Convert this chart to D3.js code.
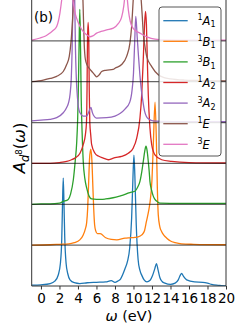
<!DOCTYPE html>
<html>
<head>
<meta charset="utf-8">
<script src="https://cdn.jsdelivr.net/npm/d3@7"></script>
<style>
body { margin: 0; background: #fff; }
svg { display: block; font-family: "DejaVu Sans", sans-serif; }
</style>
</head>
<body>
<div id="chart"></div>
<script>
// spectral function of each d8 multiplet as [omega (eV), A]
// every curve sits on its own baseline (offset by its index)
const spec_1A1 = [[-1,0.02],[0,0.03],[1,0.06],[1.5,0.12],[1.87,0.27],[2.1,0.55],[2.25,1.16],[2.33,2.0],[2.41,2.64],[2.49,2.0],[2.57,1.2],[2.72,0.55],[2.9,0.3],[3.14,0.15],[3.6,0.08],[4.2,0.06],[5.0,0.08],[6.0,0.09],[7.0,0.1],[7.6,0.13],[8.0,0.09],[8.3,0.12],[8.6,0.17],[9.08,0.42],[9.35,0.6],[9.6,0.95],[9.8,1.66],[9.95,2.7],[10.05,3.2],[10.15,2.7],[10.3,1.5],[10.5,0.65],[10.7,0.38],[10.9,0.26],[11.15,0.15],[11.45,0.1],[11.8,0.14],[12.05,0.25],[12.3,0.42],[12.48,0.55],[12.65,0.4],[12.86,0.2],[13.1,0.11],[13.4,0.07],[14.0,0.04],[14.5,0.07],[14.84,0.15],[15.05,0.26],[15.2,0.31],[15.4,0.24],[15.75,0.15],[16.6,0.1],[17.5,0.09],[18.0,0.07],[18.45,0.04],[19.0,0.02],[19.5,0.01],[20,0.0]];
const spec_1B1 = [[-1,0.0],[1,0.01],[2,0.02],[3,0.03],[3.6,0.06],[4.2,0.13],[4.57,0.25],[4.8,0.4],[4.94,0.55],[5.05,0.9],[5.15,1.5],[5.25,2.1],[5.38,2.35],[5.5,2.1],[5.6,1.5],[5.7,0.9],[5.8,0.5],[5.92,0.35],[6.1,0.28],[6.4,0.28],[7.0,0.18],[7.6,0.14],[8.2,0.13],[9.08,0.17],[9.6,0.18],[10.16,0.19],[10.5,0.2],[10.9,0.25],[11.2,0.36],[11.4,0.58],[11.65,0.85],[11.8,1.07],[12.0,1.6],[12.15,2.5],[12.33,3.5],[12.48,2.5],[12.58,1.4],[12.68,0.74],[12.85,0.45],[13.05,0.33],[13.3,0.24],[13.6,0.17],[14.0,0.1],[14.5,0.06],[15.2,0.03],[16.5,0.02],[20,0.01]];
const spec_3B1 = [[-1,0.0],[0,0.01],[1,0.01],[2,0.03],[2.4,0.07],[2.95,0.12],[3.2,0.25],[3.5,0.6],[3.7,1.05],[3.86,1.5],[3.97,2.1],[4.05,2.9],[4.12,3.9],[4.2,4.77],[4.28,3.8],[4.35,2.6],[4.45,1.75],[4.57,1.05],[4.75,0.62],[4.94,0.4],[5.2,0.2],[5.48,0.13],[6.0,0.12],[6.5,0.12],[7.0,0.13],[7.8,0.16],[8.5,0.2],[9.08,0.24],[9.5,0.28],[9.8,0.3],[10.16,0.32],[10.45,0.42],[10.7,0.56],[10.9,0.8],[11.06,1.05],[11.22,1.3],[11.35,1.42],[11.48,1.3],[11.6,1.05],[11.7,0.8],[11.78,0.56],[11.95,0.35],[12.14,0.2],[12.32,0.12],[12.6,0.06],[12.86,0.03],[15,0.02],[20,0.02]];
const spec_1A2 = [[-1,0.0],[1,0.0],[2,0.02],[2.78,0.05],[3.3,0.09],[3.68,0.13],[4.22,0.25],[4.57,0.46],[4.8,0.7],[4.92,1.0],[4.98,1.8],[5.03,3.0],[5.1,3.45],[5.17,3.0],[5.22,1.8],[5.28,1.0],[5.38,0.7],[5.48,0.46],[5.84,0.25],[6.2,0.18],[6.74,0.13],[7.28,0.09],[7.7,0.12],[8.0,0.14],[8.72,0.17],[9.44,0.25],[9.98,0.38],[10.35,0.62],[10.7,1.11],[10.89,1.68],[11.05,2.5],[11.2,3.4],[11.3,3.72],[11.4,3.4],[11.5,2.5],[11.6,1.68],[11.78,0.87],[11.97,0.46],[12.32,0.21],[13.05,0.09],[14.13,0.05],[16,0.02],[20,0.01]];
const spec_3A2 = [[-1,0.04],[0,0.06],[0.97,0.08],[1.7,0.12],[2.41,0.24],[2.78,0.37],[3.0,0.5],[3.15,0.7],[3.28,1.1],[3.37,1.8],[3.45,3.0],[3.55,4.4],[3.65,3.0],[3.73,1.8],[3.82,1.1],[3.95,0.6],[4.05,0.37],[4.22,0.24],[4.57,0.16],[4.94,0.16],[5.15,0.25],[5.4,0.37],[5.55,0.25],[5.73,0.16],[6.0,0.11],[7.1,0.12],[8.0,0.16],[8.54,0.22],[9.08,0.33],[9.6,0.5],[9.85,0.8],[10.0,1.2],[10.12,1.9],[10.25,2.6],[10.4,2.1],[10.55,1.6],[10.7,1.15],[10.85,0.8],[11.0,0.55],[11.2,0.28],[11.4,0.15],[11.7,0.08],[12.1,0.04],[13,0.03],[16,0.02],[20,0.02]];
const spec_1E = [[-1,0.0],[0.25,0.04],[1.0,0.08],[1.7,0.13],[2.41,0.25],[2.78,0.42],[3.06,0.62],[3.24,0.95],[3.42,1.52],[3.6,2.3],[3.85,3.0],[4.1,3.2],[4.35,2.9],[4.5,2.3],[4.6,1.5],[4.68,0.9],[4.8,0.55],[5.0,0.4],[5.2,0.33],[5.5,0.25],[5.84,0.16],[6.02,0.12],[6.3,0.17],[6.56,0.25],[7.0,0.28],[7.8,0.3],[8.0,0.33],[8.72,0.42],[9.26,0.62],[9.62,0.95],[9.8,1.35],[10.0,2.1],[10.2,2.6],[10.4,2.7],[10.6,2.5],[10.8,2.1],[10.95,1.6],[11.06,1.19],[11.25,0.85],[11.43,0.62],[11.97,0.37],[12.68,0.17],[13.3,0.1],[14,0.07],[15.5,0.04],[17,0.03],[20,0.02]];
const spec_3E = [[-1,0.02],[-0.1,0.07],[0.5,0.12],[0.97,0.19],[1.4,0.27],[1.7,0.35],[2.05,0.68],[2.24,1.0],[2.5,1.6],[2.85,2.0],[3.2,1.6],[3.46,1.0],[3.65,0.72],[3.86,0.55],[4.22,0.35],[4.6,0.22],[4.94,0.15],[5.3,0.1],[5.6,0.12],[6.02,0.19],[6.5,0.23],[7.1,0.27],[7.82,0.31],[8.35,0.42],[8.72,0.58],[8.95,0.85],[9.1,1.15],[9.2,1.3],[9.3,1.1],[9.45,0.75],[9.65,0.48],[9.9,0.33],[10.16,0.26],[10.6,0.2],[11.0,0.15],[11.5,0.09],[11.9,0.06],[12.8,0.03],[15,0.02],[20,0.02]];

// legend labels: spin multiplicity, irrep letter, irrep index
const multiplicity = ["1", "1", "3", "1", "3", "1", "3"];
const irrepLetter = ["A", "B", "B", "A", "A", "E", "E"];
const irrepIndex = ["1", "1", "1", "2", "2", "", ""];

const xTicks = [0, 2, 4, 6, 8, 10, 12, 14, 16, 18, 20];

const allSpectra = [spec_1A1, spec_1B1, spec_3B1, spec_1A2, spec_3A2, spec_1E, spec_3E];
const colors = ["#1f77b4", "#ff7f0e", "#2ca02c", "#d62728", "#9467bd", "#8c564b", "#e377c2"];

const width = 252, height = 334;
const plotLeft = 31.7, plotRight = 226, plotTop = 0, plotBottom = 286;

const svg = d3.select("#chart").append("svg")
    .attr("width", width)
    .attr("height", height);

const x = d3.scaleLinear().domain([-1, 20]).range([plotLeft, plotRight]);
const y = d3.scaleLinear().domain([0, 7]).range([plotBottom, plotTop]);

svg.append("clipPath").attr("id", "plot-clip")
    .append("rect")
    .attr("x", plotLeft).attr("y", -2)
    .attr("width", plotRight - plotLeft).attr("height", plotBottom + 2);

// the curves, each shifted up by its index
const line = d3.line().curve(d3.curveMonotoneX);
const curves = svg.append("g").attr("clip-path", "url(#plot-clip)");
allSpectra.forEach(function (spec, i) {
    curves.append("path")
        .attr("d", line(spec.map(d => [x(d[0]), y(d[1] + i)])))
        .attr("fill", "none")
        .attr("stroke", colors[i])
        .attr("stroke-width", 1.3);
});

// baselines between the stacked curves
curves.selectAll(".baseline")
    .data(d3.range(1, allSpectra.length))
    .join("line")
    .attr("class", "baseline")
    .attr("x1", plotLeft).attr("x2", plotRight)
    .attr("y1", d => y(d)).attr("y2", d => y(d))
    .attr("stroke", "#000")
    .attr("stroke-opacity", 0.6)
    .attr("stroke-width", 1.3);

// frame (no top edge in view)
svg.append("path")
    .attr("d", `M${plotLeft},-2V${plotBottom}H${plotRight}V-2`)
    .attr("fill", "none")
    .attr("stroke", "#333")
    .attr("stroke-width", 1);

// x axis
const xAxis = svg.append("g")
    .attr("transform", `translate(0,${plotBottom})`)
    .call(d3.axisBottom(x).tickValues(xTicks).tickSize(3.5).tickPadding(3.6).tickFormat(d3.format("d")));
xAxis.select(".domain").remove();
xAxis.selectAll("line").attr("stroke", "#333");
xAxis.selectAll("text")
    .attr("font-family", "DejaVu Sans")
    .attr("font-size", 13.5)
    .attr("fill", "#000");

svg.append("text")
    .attr("x", (plotLeft + plotRight) / 2)
    .attr("y", 320.5)
    .attr("text-anchor", "middle")
    .attr("font-size", 14.5)
    .call(t => {
        t.append("tspan").attr("font-style", "italic").text("ω");
        t.append("tspan").text(" (eV)");
    });

// y label A_{d^8}(ω)
const ylab = svg.append("text")
    .attr("transform", "translate(25,148) rotate(-90)")
    .attr("text-anchor", "middle")
    .attr("font-size", 16.5);
ylab.append("tspan").attr("font-style", "italic").text("A");
ylab.append("tspan").attr("font-style", "italic").attr("font-size", 11.5).attr("dy", 3.5).text("d");
ylab.append("tspan").attr("font-size", 8.5).attr("dy", -6.5).text("8");
ylab.append("tspan").attr("dy", 3).text("(");
ylab.append("tspan").attr("font-style", "italic").text("ω");
ylab.append("tspan").text(")");

// panel tag
svg.append("text")
    .attr("x", 34)
    .attr("y", 21.5)
    .attr("font-size", 13.5)
    .text("(b)");

// legend
const legend = svg.append("g");
legend.append("rect")
    .attr("x", 159).attr("y", 7)
    .attr("width", 62).attr("height", 149)
    .attr("rx", 3)
    .attr("fill", "#fff").attr("fill-opacity", 0.85)
    .attr("stroke", "#444").attr("stroke-width", 0.9);
colors.forEach(function (c, i) {
    const ly = 20.7 + i * 20.6;
    legend.append("line")
        .attr("x1", 163.3).attr("x2", 187.7)
        .attr("y1", ly).attr("y2", ly)
        .attr("stroke", c).attr("stroke-width", 1.3);
    const t = legend.append("text")
        .attr("x", 197.5).attr("y", ly + 4.2)
        .attr("font-size", 11.5);
    t.append("tspan").attr("font-size", 8).attr("dy", -4.5).text(multiplicity[i]);
    t.append("tspan").attr("font-style", "italic").attr("dy", 4.5).text(irrepLetter[i]);
    if (irrepIndex[i]) {
        t.append("tspan").attr("font-size", 8).attr("dy", 2.5).text(irrepIndex[i]);
    }
});
</script>
</body>
</html>
